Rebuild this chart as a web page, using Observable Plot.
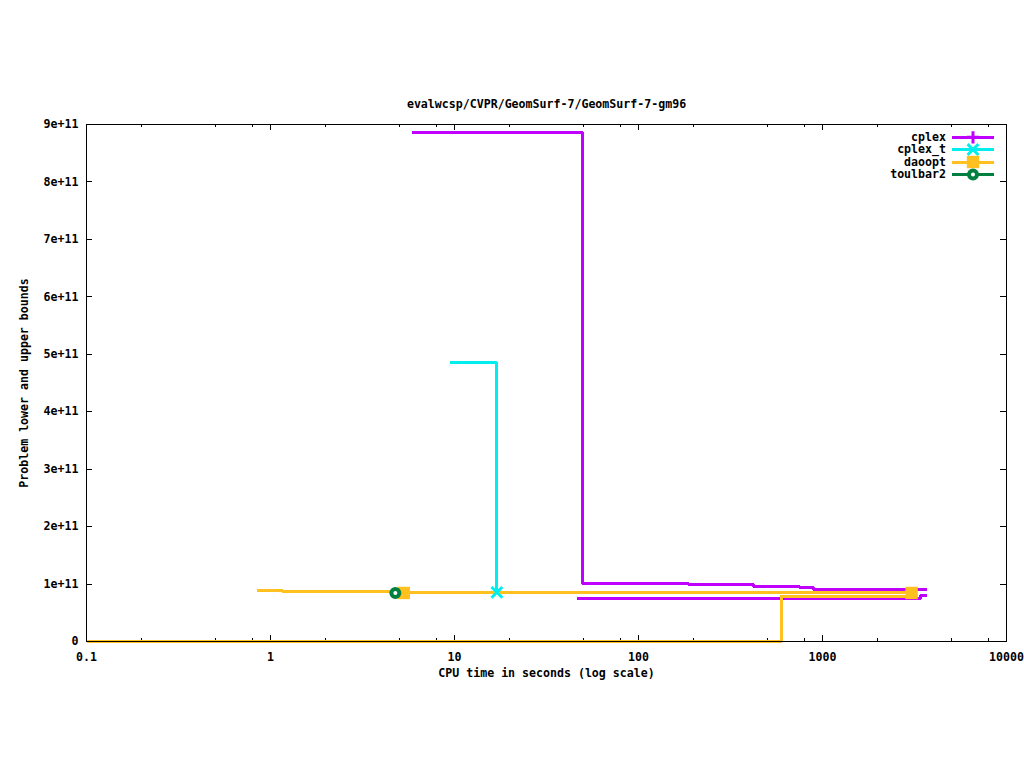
<!DOCTYPE html>
<html>
<head>
<meta charset="utf-8">
<script src="https://cdn.jsdelivr.net/npm/d3@7"></script>
<script src="https://cdn.jsdelivr.net/npm/@observablehq/plot@0.6"></script>
<style>
html, body { margin: 0; padding: 0; background: #fff; overflow: hidden; }
</style>
</head>
<body>
<div id="chart"></div>
<script>
// ---- text ----
const title = "evalwcsp/CVPR/GeomSurf-7/GeomSurf-7-gm96";
const xLabel = "CPU time in seconds (log scale)";
const yLabel = "Problem lower and upper bounds";

// ---- series meta ----
const seriesNames = ["cplex", "cplex_t", "daoopt", "toulbar2"];
const seriesColors = ["#c000ff", "#00eeee", "#ffc020", "#008040"];
const seriesSymbols = ["plus", "times", "square", "circle"];

// ---- ticks ----
const xMajor = [0.1, 1, 10, 100, 1000, 10000];
const xMajorLabels = ["0.1", "1", "10", "100", "1000", "10000"];
const xMinor = [0.2, 0.5, 0.8, 2, 5, 8, 20, 50, 80, 200, 500, 800, 2000, 5000, 8000];
const yMajor = [0, 1e11, 2e11, 3e11, 4e11, 5e11, 6e11, 7e11, 8e11, 9e11];
const yMajorLabels = ["0", "1e+11", "2e+11", "3e+11", "4e+11", "5e+11", "6e+11", "7e+11", "8e+11", "9e+11"];

// ---- data (time in s, bound value) ----
const cplexUpperX = [5.84, 49.6, 187, 422, 750, 894, 3675];
const cplexUpperY = [8.856e11, 1.0045e11, 0.987e11, 0.9575e11, 0.940e11, 0.900e11, 0.900e11];
const cplexLowerX = [46.4, 3410, 3675];
const cplexLowerY = [0.749e11, 0.800e11, 0.800e11];

const cplexTUpperX = [9.4, 17.0];
const cplexTUpperY = [4.85e11, 0.855e11];
const cplexTMarkX = [17.0];
const cplexTMarkY = [0.855e11];

const daooptUpperX = [0.84, 1.16, 5.3, 3050];
const daooptUpperY = [0.883e11, 0.865e11, 0.845e11, 0.845e11];
const daooptLowerX = [0.1, 598, 3050];
const daooptLowerY = [0, 0.792e11, 0.792e11];
const daooptMarkX = [5.3, 3050];
const daooptMarkY = [0.845e11, 0.845e11];

const toulbar2MarkX = [4.77];
const toulbar2MarkY = [0.845e11];

const zip = (xs, ys) => xs.map((x, i) => ({x, y: ys[i]}));

const W = 1024, H = 768;
const mL = 86, mR = 18, mT = 124, mB = 127;
const fw = W - mL - mR, fh = H - mT - mB;
const FONT = "'DejaVu Sans Mono', 'Liberation Mono', monospace";
const FS = 11.6;

const lineOpts = (c) => ({x: "x", y: "y", curve: "step-after", stroke: c, strokeWidth: 3,
  strokeLinejoin: "miter", strokeLinecap: "butt", shapeRendering: "crispEdges"});

const plot = Plot.plot({
  width: W, height: H,
  marginLeft: mL, marginRight: mR, marginTop: mT, marginBottom: mB,
  x: {type: "log", domain: [0.1, 10000], axis: null},
  y: {domain: [0, 9e11], axis: null},
  style: {background: "white", fontFamily: FONT, fontSize: FS + "px", fontWeight: "bold", color: "black"},
  marks: [
    // ticks (inward, mirrored)
    Plot.tickX(xMajor, {x: d => d, insetTop: fh - 6, stroke: "black", shapeRendering: "crispEdges"}),
    Plot.tickX(xMajor, {x: d => d, insetBottom: fh - 6, stroke: "black", shapeRendering: "crispEdges"}),
    Plot.tickX(xMinor, {x: d => d, insetTop: fh - 3, stroke: "black", shapeRendering: "crispEdges"}),
    Plot.tickX(xMinor, {x: d => d, insetBottom: fh - 3, stroke: "black", shapeRendering: "crispEdges"}),
    Plot.tickY(yMajor, {y: d => d, insetRight: fw - 6, stroke: "black", shapeRendering: "crispEdges"}),
    Plot.tickY(yMajor, {y: d => d, insetLeft: fw - 6, stroke: "black", shapeRendering: "crispEdges"}),
    // tick labels
    Plot.text(xMajor, {x: d => d, frameAnchor: "bottom", dy: 16, lineAnchor: "middle", textAnchor: "middle",
      text: (d, i) => xMajorLabels[i], fontSize: FS}),
    Plot.text(yMajor, {y: d => d, frameAnchor: "left", dx: -8, lineAnchor: "middle", textAnchor: "end",
      text: (d, i) => yMajorLabels[i], fontSize: FS}),
    // titles
    Plot.text([title], {frameAnchor: "top", dy: -20.5, lineAnchor: "middle", textAnchor: "middle", fontSize: FS}),
    Plot.text([xLabel], {frameAnchor: "bottom", dy: 32, lineAnchor: "middle", textAnchor: "middle", fontSize: FS}),
    Plot.text([yLabel], {frameAnchor: "left", dx: -62, rotate: -90, lineAnchor: "middle", textAnchor: "middle", fontSize: FS}),
    // lines
    Plot.line(zip(cplexUpperX, cplexUpperY), lineOpts(seriesColors[0])),
    Plot.line(zip(cplexLowerX, cplexLowerY), lineOpts(seriesColors[0])),
    Plot.line(zip(cplexTUpperX, cplexTUpperY), lineOpts(seriesColors[1])),
    Plot.line(zip(daooptUpperX, daooptUpperY), lineOpts(seriesColors[2])),
    Plot.line(zip(daooptLowerX, daooptLowerY), lineOpts(seriesColors[2])),
    // markers
    Plot.dot(zip(cplexTMarkX, cplexTMarkY), {x: "x", y: "y", symbol: "times", r: 5, stroke: seriesColors[1], strokeWidth: 3}),
    Plot.dot(zip(daooptMarkX, daooptMarkY), {x: "x", y: "y", symbol: "square", r: 7, fill: seriesColors[2], stroke: "none"}),
    Plot.dot(zip(toulbar2MarkX, toulbar2MarkY), {x: "x", y: "y", symbol: "circle", r: 4, fill: "white", stroke: seriesColors[3], strokeWidth: 4}),
    // frame
    Plot.frame({stroke: "black", strokeWidth: 1, shapeRendering: "crispEdges"})
  ]
});

// ---- legend (top-right, inside the frame) ----
const svg = d3.select(plot);
const lg = svg.append("g").attr("font-family", FONT).attr("font-size", FS).attr("font-weight", "bold");
const rowY = [137.3, 149.6, 162, 174.6];
const symMap = {plus: d3.symbolPlus, times: d3.symbolTimes, square: d3.symbolSquare, circle: d3.symbolCircle};
const symR = {plus: 4, times: 5, square: 7, circle: 4};
seriesNames.forEach((name, i) => {
  const y = rowY[i];
  const c = seriesColors[i];
  lg.append("text").attr("x", 946).attr("y", y).attr("dy", "0.32em").attr("text-anchor", "end").attr("fill", "black").text(name);
  lg.append("line").attr("x1", 952).attr("x2", 994).attr("y1", y).attr("y2", y)
    .attr("stroke", c).attr("stroke-width", 3).attr("shape-rendering", "crispEdges");
  const s = seriesSymbols[i];
  const p = lg.append("path").attr("transform", `translate(973,${y})`)
    .attr("d", d3.symbol(symMap[s], Math.PI * symR[s] * symR[s])());
  if (s === "square") p.attr("fill", c);
  else if (s === "circle") p.attr("fill", "white").attr("stroke", c).attr("stroke-width", 4);
  else p.attr("fill", "none").attr("stroke", c).attr("stroke-width", 3);
});

document.getElementById("chart").appendChild(plot);
</script>
</body>
</html>
